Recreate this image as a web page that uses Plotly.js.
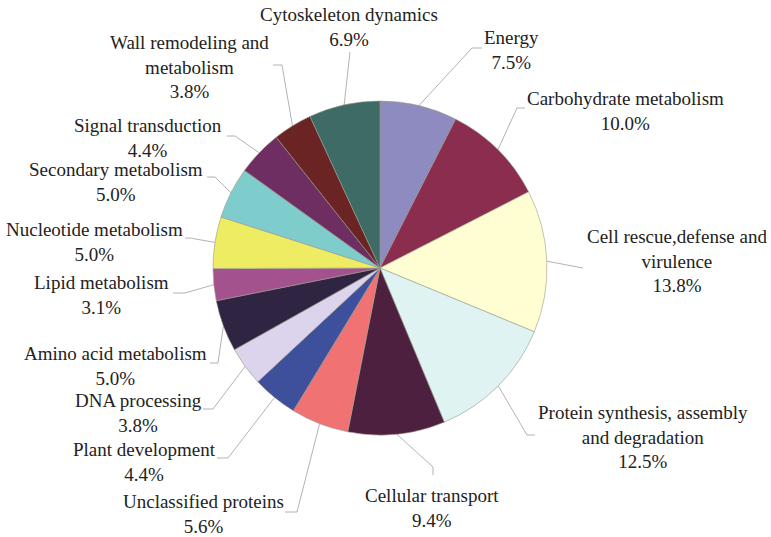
<!DOCTYPE html>
<html>
<head>
<meta charset="utf-8">
<script src="https://cdn.plot.ly/plotly-3.0.1.min.js"></script>
<style>
  body { margin: 0; background: #fff; }
  #plotArea { width: 771px; height: 537px; }
</style>
</head>
<body>
<div id="plotArea"></div>
<script>
// Categories, clockwise from 12 o'clock
var categories = ["Energy", "Carbohydrate metabolism", "Cell rescue,defense and<br>virulence",
    "Protein synthesis, assembly<br>and degradation", "Cellular transport", "Unclassified proteins",
    "Plant development", "DNA processing", "Amino acid metabolism", "Lipid metabolism",
    "Nucleotide metabolism", "Secondary metabolism", "Signal transduction",
    "Wall remodeling and<br>metabolism", "Cytoskeleton dynamics"];
var percents = [7.5, 10.0, 13.8, 12.5, 9.4, 5.6, 4.4, 3.8, 5.0, 3.1, 5.0, 5.0, 4.4, 3.8, 6.9];
var sliceColors = ["#8e8bc0", "#8a2d4e", "#fefed2", "#dff3f3", "#4e2040", "#f07272", "#3e4f9c",
    "#dcd3ec", "#2f2442", "#a4528e", "#eeec62", "#7ecccc", "#6e2e62", "#6a2424", "#3f6b67"];

// label layout (pixels): text block centre, line end near text, elbow
var labelX = [511, 625, 677, 643, 432, 203, 144, 138, 115, 101, 94, 116, 148, 189, 349];
var labelY = [50, 110.5, 261, 436.5, 507.5, 513.5, 461.5, 412.5, 366, 295, 241.5, 181.5, 138, 67, 27];
var lineEndX = [482, 525, 583, 535, 433, 285, 217, 203, 210, 173, 185, 207, 227, 273, 350];
var lineEndY = [48, 108, 268, 435, 475, 512, 458, 409, 363, 293, 238, 177, 136, 65, 52];
var elbowX = [472, 517, 572, 527, 433, 297, 228, 213, 218, 185, 190, 215, 235, 282, 350];
var elbowY = [48, 108, 266, 435, 467, 512, 458, 409, 363, 293, 238, 177, 136, 65, 52];

var W = 771, H = 537;
var cx = 380, cy = 268, R = 167;

var pieTrace = {
    type: "pie",
    labels: categories,
    values: percents,
    sort: false,
    direction: "clockwise",
    rotation: 0,
    textinfo: "none",
    hoverinfo: "label+value",
    marker: {colors: sliceColors, line: {color: "#9a9a8a", width: 0.6}},
    domain: {x: [(cx - R) / W, (cx + R) / W], y: [(H - cy - R) / H, (H - cy + R) / H]},
    showlegend: false
};

var total = percents.reduce(function (a, b) { return a + b; }, 0);
var traces = [pieTrace];
var annotations = [];
var cum = 0;
percents.forEach(function (v, i) {
    var mid = (cum + v / 2) / total * 2 * Math.PI;
    cum += v;
    var tipX = cx + R * Math.sin(mid);
    var tipY = cy - R * Math.cos(mid);
    traces.push({
        type: "scatter", mode: "lines",
        x: [tipX, elbowX[i], lineEndX[i]],
        y: [tipY, elbowY[i], lineEndY[i]],
        line: {color: "#a0a0a0", width: 0.8},
        hoverinfo: "skip", showlegend: false
    });
    annotations.push({
        x: labelX[i], y: labelY[i], xref: "x", yref: "y",
        text: categories[i] + "<br>" + v.toFixed(1) + "%",
        showarrow: false, xanchor: "center", yanchor: "middle",
        font: {family: "Liberation Serif", size: 19, color: "#222"}
    });
});

var layout = {
    width: W, height: H,
    margin: {l: 0, r: 0, t: 0, b: 0},
    font: {family: "Liberation Serif"},
    paper_bgcolor: "#fff", plot_bgcolor: "rgba(0,0,0,0)",
    xaxis: {range: [0, W], visible: false, fixedrange: true},
    yaxis: {range: [H, 0], visible: false, fixedrange: true},
    annotations: annotations,
    showlegend: false
};

Plotly.newPlot("plotArea", traces, layout, {displayModeBar: false, staticPlot: true});
</script>
</body>
</html>
